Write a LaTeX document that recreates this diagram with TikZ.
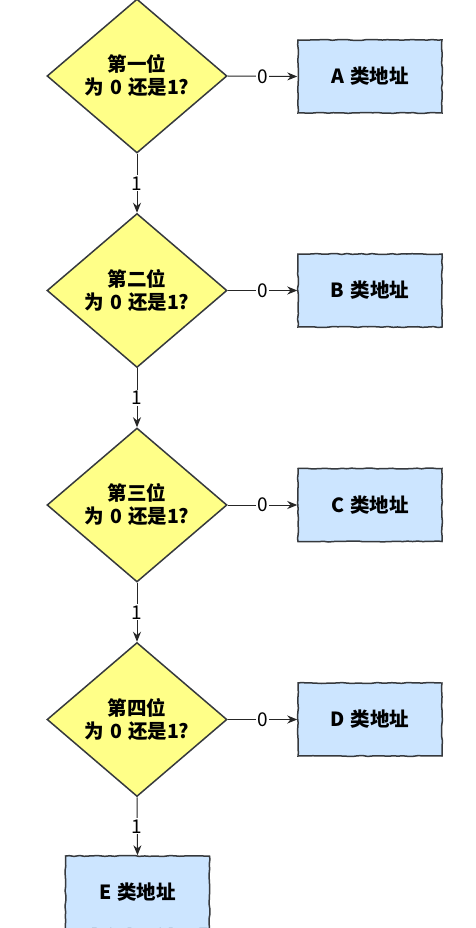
\documentclass[tikz,border=0pt]{standalone}
\usepackage{fontspec}
\setmainfont{Noto Sans CJK SC}
\usetikzlibrary{shapes.geometric,arrows.meta,decorations.pathmorphing}
\definecolor{strokec}{HTML}{36393D}
\definecolor{decfill}{HTML}{FFFF88}
\definecolor{boxfill}{HTML}{CCE5FF}
\newcommand{\gap}{\hspace{6pt}}
\begin{document}
\begin{tikzpicture}[x=1pt,y=-1pt,
  decision/.style={diamond, draw=strokec, fill=decfill, line width=1.5pt,
    minimum width=180pt, minimum height=154pt, inner sep=0pt, align=center,
    font=\fontsize{19.5}{23}\selectfont\bfseries},
  result/.style={rectangle, draw=strokec, fill=boxfill, line width=1.5pt,
    minimum width=144pt, minimum height=73pt, inner sep=0pt,
    font=\fontsize{19.5}{23}\selectfont\bfseries,
    decorate, decoration={random steps, segment length=5pt, amplitude=0.5pt}},
  flow/.style={draw=black!85, line width=1pt, -{Stealth[length=10pt,width=8pt]}},
  lbl/.style={fill=white, inner sep=1pt, font=\fontsize{19}{19}\selectfont}
]
\pgfmathsetseed{7}
\useasboundingbox (0,0) rectangle (475,928);
\fill[white] (0,0) rectangle (475,928);

\node[decision] (d1) at (137,76) {第一位\\为\gap 0\gap 还是1?};
\node[decision] (d2) at (137,290.5) {第二位\\为\gap 0\gap 还是1?};
\node[decision] (d3) at (137,505) {第三位\\为\gap 0\gap 还是1?};
\node[decision] (d4) at (137,719.5) {第四位\\为\gap 0\gap 还是1?};

\node[result] (a) at (370,76.5) {A\gap 类地址};
\node[result] (b) at (370,290.5) {B\gap 类地址};
\node[result] (c) at (370,505) {C\gap 类地址};
\node[result] (d) at (370,719.5) {D\gap 类地址};
\node[result] (e) at (137.5,892.5) {E\gap 类地址};

\draw[flow] (d1.east) -- node[lbl] {0} (a.west);
\draw[flow] (d2.east) -- node[lbl] {0} (b.west);
\draw[flow] (d3.east) -- node[lbl] {0} (c.west);
\draw[flow] (d4.east) -- node[lbl] {0} (d.west);

\draw[flow] (d1.south) -- node[lbl] {1} (d2.north);
\draw[flow] (d2.south) -- node[lbl] {1} (d3.north);
\draw[flow] (d3.south) -- node[lbl] {1} (d4.north);
\draw[flow] (d4.south) -- node[lbl] {1} (e.north);
\end{tikzpicture}
\end{document}
